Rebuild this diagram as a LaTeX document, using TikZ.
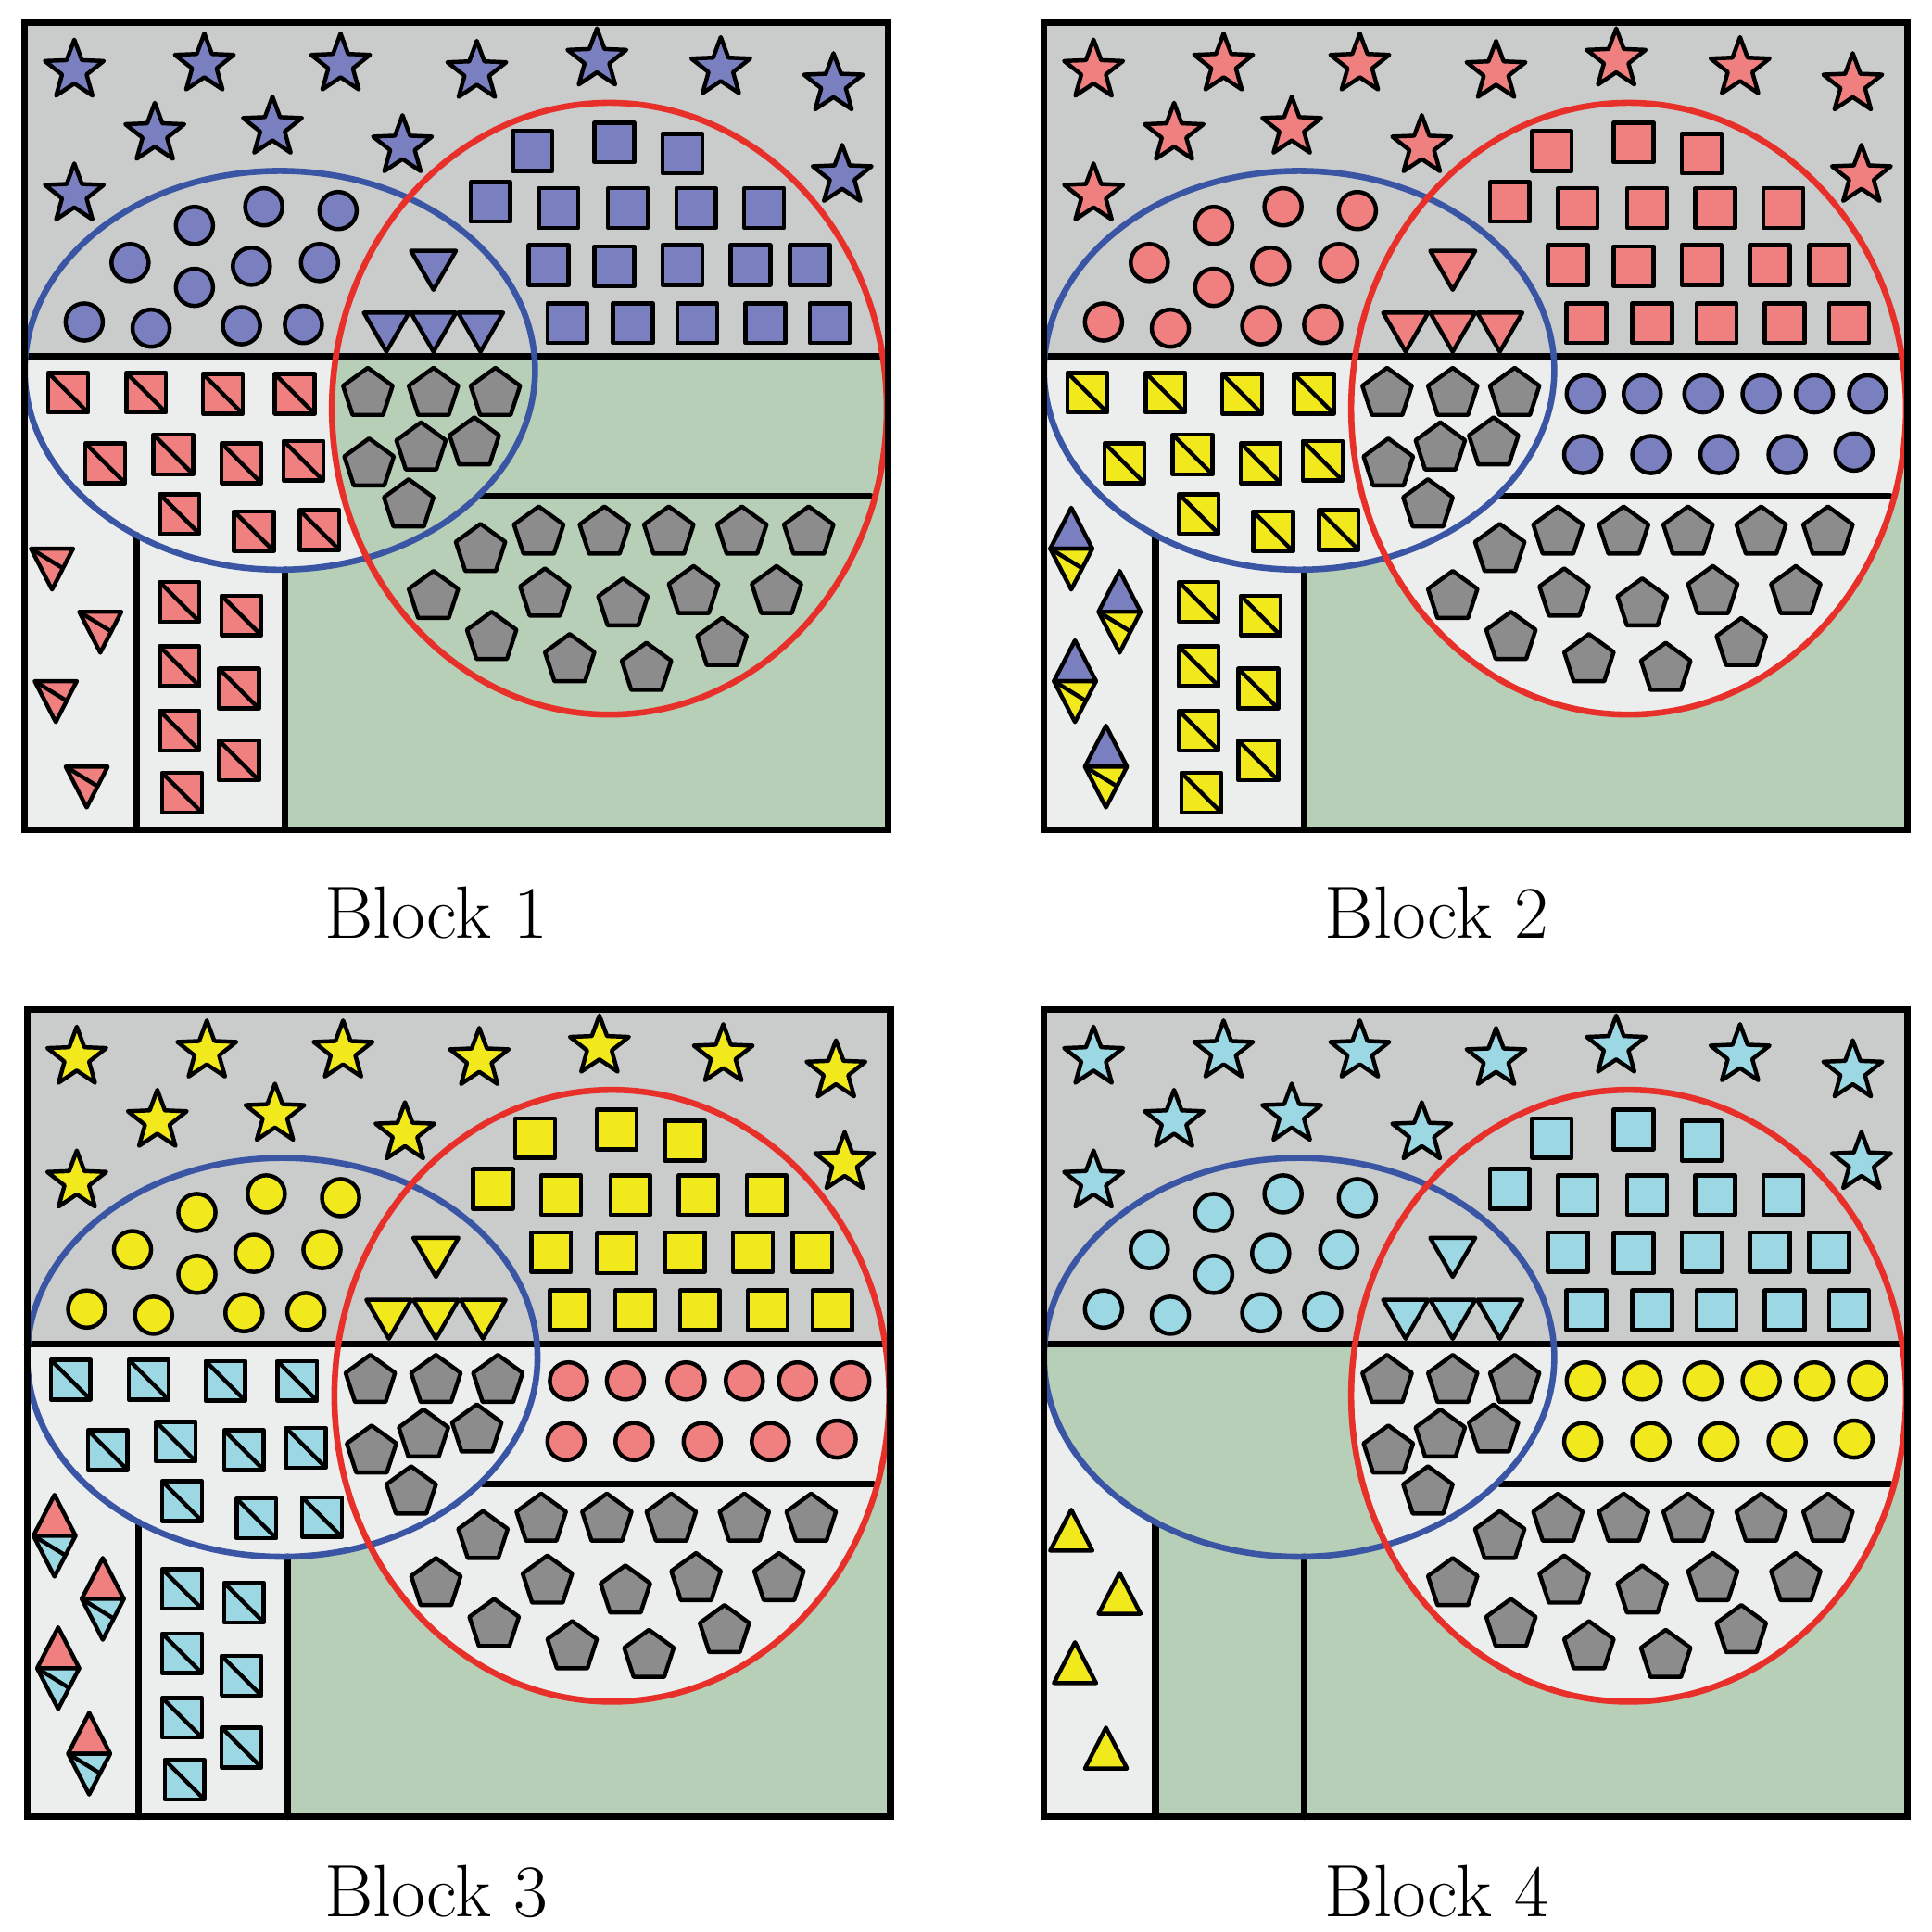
\documentclass[tikz,border=0pt]{standalone}
\usepackage{tikz}
\usetikzlibrary{shapes.geometric}
\definecolor{cblue}{HTML}{7A7FBF}
\definecolor{cred}{HTML}{F08080}
\definecolor{cyellow}{HTML}{F2E91C}
\definecolor{ccyan}{HTML}{9BD8E3}
\definecolor{topgray}{HTML}{CACCCB}
\definecolor{lightbg}{HTML}{ECEEED}
\definecolor{greenbg}{HTML}{B8CFB7}
\definecolor{pentgray}{HTML}{8C8C8C}
\definecolor{ellblue}{HTML}{3B55A5}
\definecolor{circred}{HTML}{E8302A}
\tikzset{
  outl/.style={draw=black, line width=0.95pt, line join=round},
  starmark/.style={outl, star, star points=5, star point ratio=2.4, minimum size=0.5cm, inner sep=0pt},
  dotmark/.style={outl, circle, minimum size=0.3cm, inner sep=0pt},
  trimark/.style={outl, regular polygon, regular polygon sides=3, shape border rotate=180, minimum size=0.42cm, inner sep=0pt},
  boxmark/.style={outl, rectangle, minimum size=0.32cm, inner sep=0pt},
  slashbox/.style={boxmark, path picture={\draw[line width=0.95pt] (path picture bounding box.north west) -- (path picture bounding box.south east);}},
  pentmark/.style={outl, regular polygon, regular polygon sides=5, minimum size=0.42cm, inner sep=0pt, fill=pentgray},
  wall/.style={line width=1.5pt, line cap=round},
  lbl/.style={font=\fontsize{17}{20}\selectfont}
}
% shape positions, local to one block
\def\starlist{40/39,145/34,255/34,365/40,462/30,562/37,653/50,105/90,200/85,305/100,40/139,660/124}
\def\dotlist{137/164,193/149,253/152,85/194,183/197,238/194,137/214,48/242,102/247,175/245,225/244}
\def\trilist{330/195,292/245,330/245,368/245}
\def\boxlist{410/104,476/97,531/106,376/145,431/150,487/150,542/150,597/150,423/196,476/197,531/196,586/196,634/196,438/243,491/243,543/243,598/243,650/243}
\def\slashlist{35/299,98/299,160/300,218/300,65/356,120/349,175/356,225/354,125/397,185/411,238/410,125/468,175/479,125/520,173/538,125/572,173/596,127/622}
\def\pentlist{277/300,330/300,380/300,320/344,363/340,278/357,310/390,368/426,415/412,468/412,520/412,579/412,633/412,330/464,420/462,483/470,540/460,607/460,377/497,440/515,502/522,563/502}
\def\middotlist{437/300,483/300,532/300,579/300,622/300,665/300,435/349,490/349,545/349,600/349,654/347}
\def\striplist{22/425,61/476,25/532,50/601}
% upper band of a block
\newcommand{\topshapes}[2]{%
  \foreach \x/\y [count=\i] in \starlist {\node (b#2star\i) [starmark, fill=#1] at (\x,\y) {};}
  \foreach \x/\y [count=\i] in \dotlist {\node (b#2dot\i) [dotmark, fill=#1] at (\x,\y) {};}
  \foreach \x/\y [count=\i] in \trilist {\node (b#2tri\i) [trimark, fill=#1] at (\x,\y) {};}
  \foreach \x/\y [count=\i] in \boxlist {\node (b#2box\i) [boxmark, fill=#1] at (\x,\y) {};}
  \foreach \x/\y [count=\i] in \pentlist {\node (b#2pent\i) [pentmark] at (\x,\y) {};}
}
% walls and outlines of a block
\newcommand{\blockwalls}{%
  \draw[wall] (0,270) -- (697,270);
  \draw[wall] (368,383) -- (683,383);
  \draw[wall] (90,414) -- (90,652);
  \draw[wall] (210,442) -- (210,652);
  \draw[ellblue, line width=1.4pt] (206,281) ellipse [x radius=206, y radius=161];
  \draw[circred, line width=1.4pt] (472,312) ellipse [x radius=224, y radius=247];
  \draw[wall] (0,0) rectangle (697,652);
}
\newcommand{\uptri}[3]{\filldraw[outl, fill=#3] (#1-17,#2) -- (#1+17,#2) -- (#1,#2-33) -- cycle;}
\newcommand{\downtri}[3]{\filldraw[outl, fill=#3] (#1-17,#2) -- (#1+17,#2) -- (#1,#2+33) -- cycle;
  \draw[outl] (#1-17,#2) -- (#1+9,#2+16);}
\begin{document}
\begin{tikzpicture}[x=0.01cm, y=-0.01cm]
\useasboundingbox (0,0) rectangle (1560,1560);

% Block 1
\begin{scope}[shift={(20,18)}]
  \fill[greenbg] (0,0) rectangle (697,652);
  \fill[topgray] (0,0) rectangle (697,270);
  \begin{scope}
    \clip (0,270) rectangle (697,652);
    \fill[lightbg] (0,270) rectangle (210,652);
    \fill[lightbg] (206,281) ellipse [x radius=206, y radius=161];
    \fill[greenbg] (472,312) ellipse [x radius=224, y radius=247];
  \end{scope}
  \blockwalls
  \topshapes{cblue}{1}
  \foreach \x/\y [count=\i] in \slashlist {\node (b1slash\i) [slashbox, fill=cred] at (\x,\y) {};}
  \foreach \x/\y in \striplist {\downtri{\x}{\y}{cred}}
\end{scope}

% Block 2
\begin{scope}[shift={(843,18)}]
  \fill[greenbg] (0,0) rectangle (697,652);
  \fill[topgray] (0,0) rectangle (697,270);
  \begin{scope}
    \clip (0,270) rectangle (697,652);
    \fill[lightbg] (0,270) rectangle (210,652);
    \fill[lightbg] (206,281) ellipse [x radius=206, y radius=161];
    \fill[lightbg] (472,312) ellipse [x radius=224, y radius=247];
  \end{scope}
  \blockwalls
  \topshapes{cred}{2}
  \foreach \x/\y [count=\i] in \slashlist {\node (b2slash\i) [slashbox, fill=cyellow] at (\x,\y) {};}
  \foreach \x/\y [count=\i] in \middotlist {\node (b2mid\i) [dotmark, fill=cblue] at (\x,\y) {};}
  \foreach \x/\y in \striplist {\uptri{\x}{\y}{cblue}\downtri{\x}{\y}{cyellow}}
\end{scope}

% Block 3
\begin{scope}[shift={(22,815)}]
  \fill[greenbg] (0,0) rectangle (697,652);
  \fill[topgray] (0,0) rectangle (697,270);
  \begin{scope}
    \clip (0,270) rectangle (697,652);
    \fill[lightbg] (0,270) rectangle (210,652);
    \fill[lightbg] (206,281) ellipse [x radius=206, y radius=161];
    \fill[lightbg] (472,312) ellipse [x radius=224, y radius=247];
  \end{scope}
  \blockwalls
  \topshapes{cyellow}{3}
  \foreach \x/\y [count=\i] in \slashlist {\node (b3slash\i) [slashbox, fill=ccyan] at (\x,\y) {};}
  \foreach \x/\y [count=\i] in \middotlist {\node (b3mid\i) [dotmark, fill=cred] at (\x,\y) {};}
  \foreach \x/\y in \striplist {\uptri{\x}{\y}{cred}\downtri{\x}{\y}{ccyan}}
\end{scope}

% Block 4
\begin{scope}[shift={(843,815)}]
  \fill[greenbg] (0,0) rectangle (697,652);
  \fill[topgray] (0,0) rectangle (697,270);
  \begin{scope}
    \clip (0,270) rectangle (697,652);
    \fill[lightbg] (0,270) rectangle (90,652);
    \fill[greenbg] (206,281) ellipse [x radius=206, y radius=161];
    \fill[lightbg] (472,312) ellipse [x radius=224, y radius=247];
  \end{scope}
  \blockwalls
  \topshapes{ccyan}{4}
  \foreach \x/\y [count=\i] in \middotlist {\node (b4mid\i) [dotmark, fill=cyellow] at (\x,\y) {};}
  \foreach \x/\y in \striplist {\uptri{\x}{\y+12}{cyellow}}
\end{scope}

\node (lab1) [lbl] at (352,737) {Block 1};
\node (lab2) [lbl] at (1160,737) {Block 2};
\node (lab3) [lbl] at (352,1527) {Block 3};
\node (lab4) [lbl] at (1160,1527) {Block 4};
\end{tikzpicture}
\end{document}
